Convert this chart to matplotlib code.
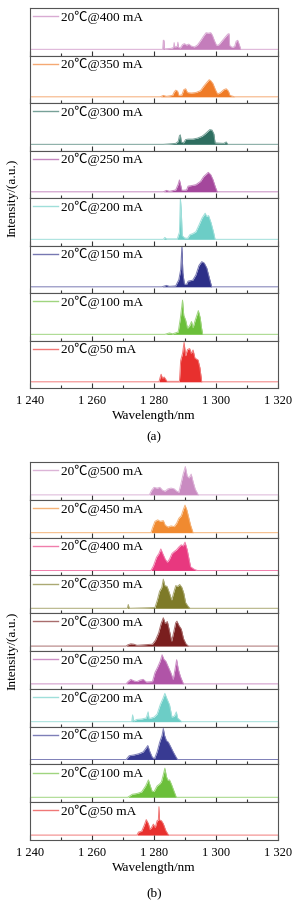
import matplotlib
matplotlib.use("Agg")
import matplotlib.pyplot as plt
from matplotlib.ticker import MultipleLocator, FuncFormatter
from matplotlib.colors import to_rgb

plt.rcParams['font.family'] = ['Liberation Serif', 'Noto Sans CJK SC', 'DejaVu Serif']
plt.rcParams['axes.unicode_minus'] = False

# ---------------- data (wavelength nm, intensity a.u.) ----------------
currents_a = [400, 350, 300, 250, 200, 150, 100, 50]
colors_a = ['#C47DBB', '#EF7B27', '#2E6E60', '#A4479C', '#6CCDC6', '#2D2F88', '#6BBF3A', '#E8302E']

a_400mA = [(1240, 0), (1282.8, 0), (1283.0, 0.19), (1283.2, 0.19), (1283.4, 0.01), (1285.5, 0.02),
           (1286.3, 0.04), (1286.5, 0.14), (1286.7, 0.05), (1287.5, 0.06), (1287.7, 0.15), (1287.9, 0.04),
           (1288.5, 0.03), (1289.2, 0.10), (1289.8, 0.12), (1290.5, 0.09), (1291.2, 0.11), (1292, 0.07),
           (1293, 0.05), (1294, 0.09), (1295, 0.18), (1296, 0.28), (1296.8, 0.35), (1297.5, 0.34),
           (1298.3, 0.35), (1298.8, 0.30), (1299.5, 0.18), (1300.2, 0.08), (1301, 0.10), (1302, 0.18),
           (1303, 0.26), (1303.8, 0.32), (1304.2, 0.33), (1304.4, 0.08), (1305.2, 0.04), (1306, 0.06),
           (1306.5, 0.17), (1307, 0.19), (1307.5, 0.10), (1308, 0), (1320, 0)]
a_350mA = [(1240, 0), (1282, 0), (1283, 0.03), (1284, 0.01), (1286, 0.03), (1286.5, 0.10), (1287, 0.14),
           (1287.6, 0.12), (1288, 0.03), (1289, 0.04), (1289.6, 0.15), (1290.2, 0.17), (1290.8, 0.09),
           (1292, 0.08), (1293.5, 0.09), (1295, 0.13), (1296, 0.22), (1297, 0.30), (1297.8, 0.36),
           (1298.3, 0.34), (1299, 0.28), (1299.8, 0.15), (1300.5, 0.06), (1301.5, 0.09), (1302.5, 0.15),
           (1303.3, 0.17), (1304, 0.12), (1304.5, 0.03), (1306, 0), (1320, 0)]
a_300mA = [(1240, 0), (1283, 0), (1287, 0.02), (1287.8, 0.06), (1288.2, 0.18), (1288.5, 0.20),
           (1288.8, 0.05), (1289.5, 0.03), (1290.2, 0.10), (1291, 0.11), (1292.5, 0.11), (1294, 0.13),
           (1295.5, 0.17), (1296.5, 0.22), (1297.5, 0.28), (1298, 0.31), (1298.7, 0.30), (1299.3, 0.22),
           (1299.7, 0.03), (1302.5, 0.02), (1303.3, 0.05), (1303.8, 0), (1320, 0)]
a_250mA = [(1240, 0), (1283, 0), (1284, 0.03), (1285, 0.01), (1287, 0.04), (1287.8, 0.16), (1288.2, 0.25),
           (1288.6, 0.14), (1289, 0.03), (1290.5, 0.04), (1291, 0.12), (1292, 0.13), (1293.5, 0.15),
           (1295, 0.22), (1296, 0.32), (1297, 0.38), (1297.5, 0.41), (1298.3, 0.36), (1299, 0.26),
           (1299.8, 0.10), (1300.4, 0), (1320, 0)]
a_200mA = [(1240, 0), (1283, 0), (1283.5, 0.04), (1284, 0.01), (1287.5, 0.01), (1288.2, 0.15),
           (1288.5, 0.87), (1288.8, 0.60), (1289.1, 0.08), (1289.8, 0.03), (1290.8, 0.02), (1291.6, 0.10),
           (1292.5, 0.12), (1293.5, 0.16), (1294.5, 0.30), (1295.5, 0.45), (1296.5, 0.55), (1297, 0.48),
           (1297.6, 0.50), (1298.4, 0.35), (1299.2, 0.15), (1299.7, 0), (1320, 0)]
a_150mA = [(1240, 0), (1282.5, 0), (1284, 0.03), (1285, 0.01), (1287, 0.02), (1288, 0.15), (1288.6, 0.36),
           (1289, 0.87), (1289.3, 0.30), (1289.8, 0.06), (1290.5, 0.05), (1291, 0.12), (1292.5, 0.14),
           (1293.5, 0.25), (1294.5, 0.45), (1295.4, 0.53), (1296.2, 0.50), (1297, 0.40), (1297.8, 0.20),
           (1298.6, 0), (1320, 0)]
a_100mA = [(1240, 0), (1283.5, 0), (1285, 0.03), (1286, 0.01), (1287.8, 0.05), (1288.5, 0.34),
           (1289.2, 0.72), (1289.6, 0.40), (1290.2, 0.30), (1290.8, 0.13), (1291.5, 0.18), (1292.1, 0.27),
           (1292.6, 0.14), (1293.3, 0.30), (1294.3, 0.50), (1294.9, 0.35), (1295.3, 0.15), (1295.7, 0),
           (1320, 0)]
a_50mA = [(1240, 0), (1281.6, 0), (1282, 0.10), (1282.3, 0.16), (1282.7, 0.08), (1283.3, 0.10),
          (1284.2, 0.01), (1288.2, 0.01), (1288.6, 0.45), (1289.2, 0.60), (1289.7, 0.83), (1290.2, 0.55),
          (1290.8, 0.68), (1291.5, 0.70), (1292, 0.60), (1292.6, 0.67), (1293.2, 0.50), (1294.2, 0.46),
          (1294.8, 0.30), (1295.4, 0), (1320, 0)]
spectra_a = [a_400mA, a_350mA, a_300mA, a_250mA, a_200mA, a_150mA, a_100mA, a_50mA]

currents_b = [500, 450, 400, 350, 300, 250, 200, 150, 100, 50]
colors_b = ['#C98BC1', '#F08A30', '#E8387F', '#7E7A28', '#7A1E1E', '#B054A7', '#6CCDC6', '#383A92',
            '#6BBF3A', '#E8302E']

b_500mA = [(1240, 0), (1278.5, 0), (1279.2, 0.12), (1280, 0.20), (1281, 0.18), (1281.9, 0.20),
           (1282.8, 0.12), (1283.6, 0.10), (1284.5, 0.16), (1285.5, 0.18), (1286.5, 0.16), (1287.3, 0.10),
           (1288, 0.07), (1288.7, 0.30), (1289.4, 0.55), (1290.1, 0.75), (1290.7, 0.50), (1291.3, 0.45),
           (1292, 0.55), (1292.6, 0.35), (1293.3, 0.15), (1294.3, 0), (1320, 0)]
b_450mA = [(1240, 0), (1279, 0), (1279.6, 0.15), (1280.3, 0.30), (1281.2, 0.34), (1282, 0.30),
           (1283, 0.32), (1283.6, 0.20), (1284.5, 0.15), (1285.5, 0.18), (1286.5, 0.16), (1287.3, 0.25),
           (1288, 0.38), (1288.8, 0.45), (1289.4, 0.60), (1290, 0.73), (1290.6, 0.60), (1291.2, 0.40),
           (1291.8, 0.20), (1292.6, 0), (1320, 0)]
b_400mA = [(1240, 0), (1279, 0), (1279.8, 0.12), (1280.8, 0.35), (1281.6, 0.45), (1282.2, 0.57),
           (1282.8, 0.45), (1283.6, 0.30), (1284.3, 0.22), (1285, 0.30), (1285.8, 0.45), (1286.5, 0.50),
           (1287.3, 0.55), (1288, 0.62), (1288.8, 0.68), (1289.4, 0.65), (1290, 0.75), (1290.7, 0.55),
           (1291.3, 0.30), (1291.8, 0.10), (1293, 0.03), (1294, 0), (1320, 0)]
b_350mA = [(1240, 0), (1271.4, 0), (1271.7, 0.10), (1272, 0), (1280.3, 0.02), (1281, 0.20),
           (1281.8, 0.45), (1282.5, 0.55), (1283, 0.77), (1283.5, 0.60), (1284.2, 0.58), (1285, 0.40),
           (1285.7, 0.22), (1286.3, 0.40), (1287, 0.60), (1287.6, 0.58), (1288.3, 0.63), (1289, 0.55),
           (1289.6, 0.40), (1290.2, 0.15), (1291, 0.05), (1291.6, 0), (1320, 0)]
b_300mA = [(1240, 0), (1271, 0), (1271.5, 0.03), (1272.5, 0.06), (1273.5, 0.05), (1274.5, 0.02), (1279.5, 0.05),
           (1280.5, 0.16), (1281.5, 0.35), (1282.3, 0.60), (1283, 0.75), (1283.6, 0.60), (1284.3, 0.65),
           (1285, 0.40), (1285.7, 0.13), (1286.3, 0.35), (1287, 0.62), (1287.4, 0.66), (1288, 0.55),
           (1288.8, 0.45), (1289.5, 0.20), (1290.3, 0.06), (1291.1, 0), (1320, 0)]
b_250mA = [(1240, 0), (1271, 0), (1271.5, 0.05), (1272.5, 0.12), (1273.5, 0.08), (1274.5, 0.06), (1275.5, 0.10),
           (1276.5, 0.12), (1277.5, 0.05), (1279.5, 0.06), (1280.3, 0.30), (1281.2, 0.45), (1282, 0.60),
           (1282.6, 0.77), (1283.2, 0.65), (1283.8, 0.60), (1284.6, 0.45), (1285.4, 0.30), (1286.2, 0.12),
           (1286.8, 0.40), (1287.3, 0.64), (1287.8, 0.40), (1288.5, 0.20), (1289.5, 0), (1320, 0)]
b_200mA = [(1240, 0), (1272.8, 0), (1273.1, 0.18), (1273.4, 0.02), (1274.5, 0.06), (1276, 0.07),
           (1277.5, 0.10), (1278.1, 0.26), (1278.4, 0.08), (1280, 0.12), (1281, 0.20), (1282, 0.45),
           (1282.8, 0.60), (1283.5, 0.75), (1284.2, 0.60), (1285, 0.45), (1285.8, 0.12), (1286.6, 0.15),
           (1287.2, 0.26), (1287.6, 0.10), (1288.9, 0), (1320, 0)]
b_150mA = [(1240, 0), (1271, 0), (1272, 0.10), (1273.5, 0.12), (1275, 0.15), (1276.5, 0.20),
           (1277.4, 0.30), (1278, 0.37), (1278.7, 0.20), (1279.5, 0.05), (1280.2, 0.03), (1281, 0.20),
           (1281.8, 0.45), (1282.6, 0.64), (1283, 0.82), (1283.4, 0.64), (1284, 0.50), (1284.6, 0.46),
           (1285.3, 0.35), (1286.2, 0.20), (1287, 0.08), (1287.6, 0), (1320, 0)]
b_100mA = [(1240, 0), (1271.5, 0), (1273, 0.08), (1274.5, 0.10), (1276, 0.14), (1277.3, 0.30),
           (1278.2, 0.46), (1278.8, 0.30), (1279.4, 0.16), (1280, 0.15), (1281, 0.30), (1281.8, 0.35),
           (1282.4, 0.41), (1283, 0.60), (1283.5, 0.77), (1284, 0.55), (1284.5, 0.45), (1285, 0.46),
           (1285.6, 0.35), (1286.5, 0.15), (1287.2, 0), (1320, 0)]
b_50mA = [(1240, 0), (1274.5, 0), (1275, 0.08), (1276, 0.10), (1276.8, 0.25), (1277.5, 0.41),
          (1278.2, 0.30), (1278.7, 0.15), (1279.2, 0.20), (1279.8, 0.29), (1280.4, 0.20), (1281, 0.38),
          (1281.4, 0.40), (1281.6, 0.75), (1281.8, 0.40), (1282.4, 0.38), (1283, 0.30), (1283.8, 0.12),
          (1284.7, 0), (1320, 0)]
spectra_b = [b_500mA, b_450mA, b_400mA, b_350mA, b_300mA, b_250mA, b_200mA, b_150mA, b_100mA, b_50mA]

x_ticks = [1240, 1260, 1280, 1300, 1320]
temperature = 20

# ---------------- figure ----------------
W, H = 298, 900
fig = plt.figure(figsize=(W / 100, H / 100), dpi=100)

def fmt(v, pos):
    s = f"{int(round(v)):d}"
    return s[0] + " " + s[1:]

def lighten(c, f):
    r, g, b = to_rgb(c)
    return (r + (1 - r) * f, g + (1 - g) * f, b + (1 - b) * f)

def panel(top_px, bottom_px, spectra, currents, colors):
    n = len(spectra)
    left = 30 / W
    width = 248 / W
    h = (bottom_px - top_px) / n
    for i, (spec, cur, col) in enumerate(zip(spectra, currents, colors)):
        y0 = 1 - (top_px + (i + 1) * h) / H
        ax = fig.add_axes([left, y0, width, h / H])
        w = [p[0] for p in spec]
        v = [p[1] for p in spec]
        ax.fill_between(w, 0, v, color=col, lw=0)
        ax.plot(w, v, color=lighten(col, 0.35), lw=0.7, label=f"{temperature}\u2103@{cur} mA")
        ax.set_xlim(1240, 1320)
        ax.set_ylim(-0.13, 0.87)
        ax.set_yticks([])
        ax.set_xticks(x_ticks)
        ax.xaxis.set_minor_locator(MultipleLocator(10))
        ax.tick_params(axis='x', which='major', direction='in', length=3.5, width=0.8, color='#333333',
                       labelsize=9, pad=5)
        ax.tick_params(axis='x', which='minor', direction='in', length=2.5, width=0.8, color='#333333')
        for sp in ax.spines.values():
            sp.set_color('#555555')
            sp.set_linewidth(0.8)
        leg = ax.legend(loc='upper left', frameon=False, fontsize=9.5, handlelength=1.9,
                        handletextpad=0.25, borderaxespad=0.1, borderpad=0.1)
        for line in leg.get_lines():
            line.set_linewidth(1.0)
        if i < n - 1:
            ax.tick_params(axis='x', labelbottom=False)
        else:
            ax.xaxis.set_major_formatter(FuncFormatter(fmt))
            ax.set_xlabel("Wavelength/nm", fontsize=9.5, labelpad=2)
    mid = 1 - ((top_px + bottom_px) / 2) / H
    fig.text(12 / W, mid, "Intensity/(a.u.)", rotation=90, ha='center', va='center', fontsize=9.5)

panel(8, 388, spectra_a, currents_a, colors_a)
fig.text(154 / W, 1 - 437 / H, "(a)", ha='center', va='center', fontsize=9.5)
panel(462, 840, spectra_b, currents_b, colors_b)
fig.text(154 / W, 1 - 893 / H, "(b)", ha='center', va='center', fontsize=9.5)

fig.savefig("out.png", dpi=100)
